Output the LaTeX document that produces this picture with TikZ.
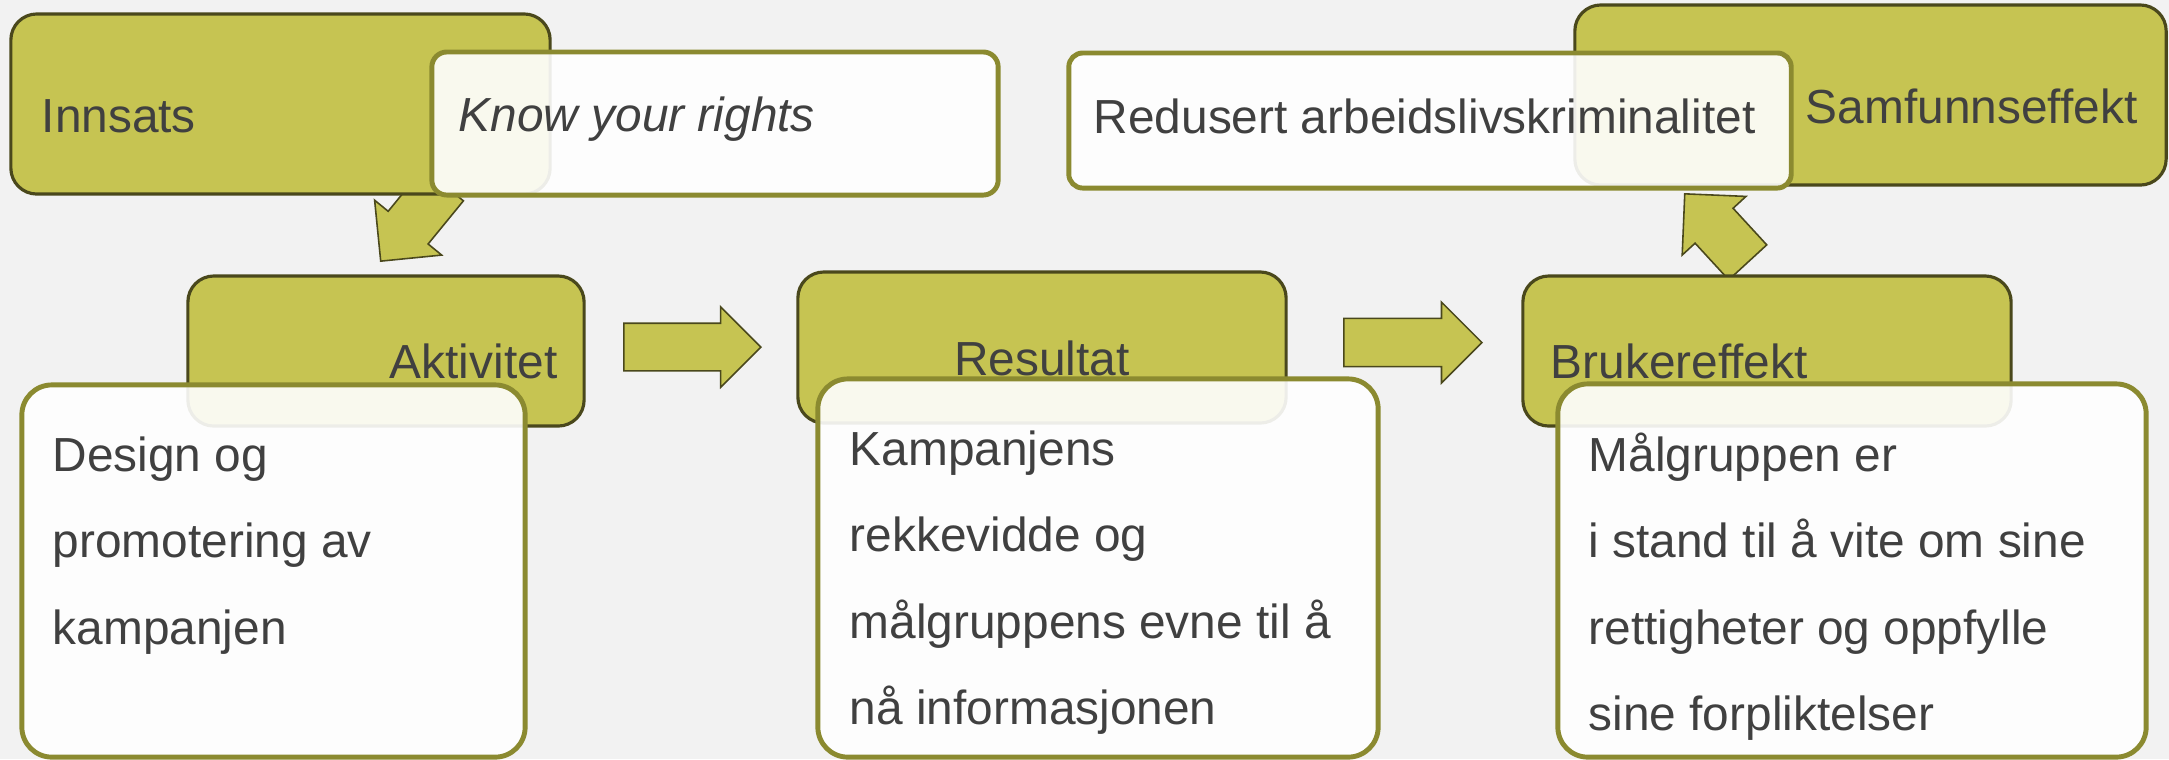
\documentclass[tikz,border=0pt]{standalone}
\usepackage{fontspec}
\setmainfont{Liberation Sans}
\usetikzlibrary{shapes.arrows}

\definecolor{olivefill}{RGB}{198,196,82}
\definecolor{olivedark}{RGB}{74,72,28}
\definecolor{oliveline}{RGB}{139,138,48}
\definecolor{textgray}{RGB}{64,64,64}
\definecolor{bggray}{RGB}{242,242,242}

\begin{document}
\begin{tikzpicture}[x=0.01cm, y=-0.01cm,
    headbox/.style={draw=olivedark, fill=olivefill, line width=0.9pt, rounded corners=0.26cm},
    notebox/.style={draw=oliveline, fill=white, fill opacity=0.9, line width=1.4pt},
    blockarr/.style={single arrow, draw=olivedark, fill=olivefill, line width=0.45pt, inner xsep=0pt, inner ysep=0.25cm, single arrow head extend=0.175cm, anchor=tip},
    lbl/.style={font=\fontsize{13.6pt}{24.6pt}\selectfont, text=textgray, inner sep=0pt},
    body/.style={lbl, text width=9cm, align=flush left}
]
\useasboundingbox (0,0) rectangle (2169,759);
\fill[bggray] (0,0) rectangle (2169,759);

% innsats
\node[blockarr, minimum height=0.99cm, rotate=230.7] (arrA) at (380,262) {};
\node[headbox, minimum width=5.39cm, minimum height=1.80cm] (innsats) at (280.5,104) {};
\node[notebox, rounded corners=0.15cm, minimum width=5.66cm, minimum height=1.43cm] (know) at (715,123.5) {};
\node[lbl, anchor=base west] (innsatsT) at (41,132) {Innsats};
\node[lbl, anchor=base west, font=\fontsize{13.6pt}{24.6pt}\selectfont\itshape] (knowT) at (458,131) {Know your rights};

% samfunnseffekt
\node[headbox, minimum width=5.91cm, minimum height=1.80cm] (samfunn) at (1870.5,95) {};
\node[notebox, rounded corners=0.14cm, minimum width=7.22cm, minimum height=1.35cm] (redusert) at (1430,120.5) {};
\node[lbl, anchor=base east] (samfunnT) at (2138,123) {Samfunnseffekt};
\node[lbl, anchor=base west] (redusertT) at (1093,133) {Redusert arbeidslivskriminalitet};

% aktivitet
\node[headbox, minimum width=3.96cm, minimum height=1.50cm] (aktivitet) at (386,351) {};
\node[lbl, anchor=base east] (aktivitetT) at (558,378) {Aktivitet};
\node[notebox, rounded corners=0.3cm, minimum width=5.03cm, minimum height=3.72cm] (design) at (273.5,571) {};
\node[body, anchor=base west] (designT) at (52,471) {Design og\\promotering av\\kampanjen};

% resultat
\node[blockarr, minimum height=1.37cm, inner ysep=0.23cm, single arrow head extend=0.165cm] (arrB) at (762,347) {};
\node[headbox, minimum width=4.88cm, minimum height=1.51cm] (resultat) at (1042,347.5) {};
\node[lbl, anchor=base] (resultatT) at (1042,375) {Resultat};
\node[notebox, rounded corners=0.3cm, minimum width=5.60cm, minimum height=3.78cm] (kampanje) at (1098,568) {};
\node[body, anchor=base west] (kampanjeT) at (849,465) {Kampanjens\\rekkevidde og\\målgruppens evne til å\\nå informasjonen};

% brukereffekt
\node[blockarr, minimum height=1.38cm, inner ysep=0.233cm, single arrow head extend=0.163cm] (arrC) at (1483,342.5) {};
\node[blockarr, minimum height=0.93cm, rotate=132.6] (arrD) at (1684,193) {};
\node[headbox, minimum width=4.88cm, minimum height=1.50cm] (bruker) at (1767,351) {};
\node[lbl, anchor=base west] (brukerT) at (1550,378) {Brukereffekt};
\node[notebox, rounded corners=0.3cm, minimum width=5.88cm, minimum height=3.73cm] (maal) at (1852,570.5) {};
\node[body, anchor=base west] (maalT) at (1588,471) {Målgruppen er\\i stand til å vite om sine\\rettigheter og oppfylle\\sine forpliktelser};
\end{tikzpicture}
\end{document}
